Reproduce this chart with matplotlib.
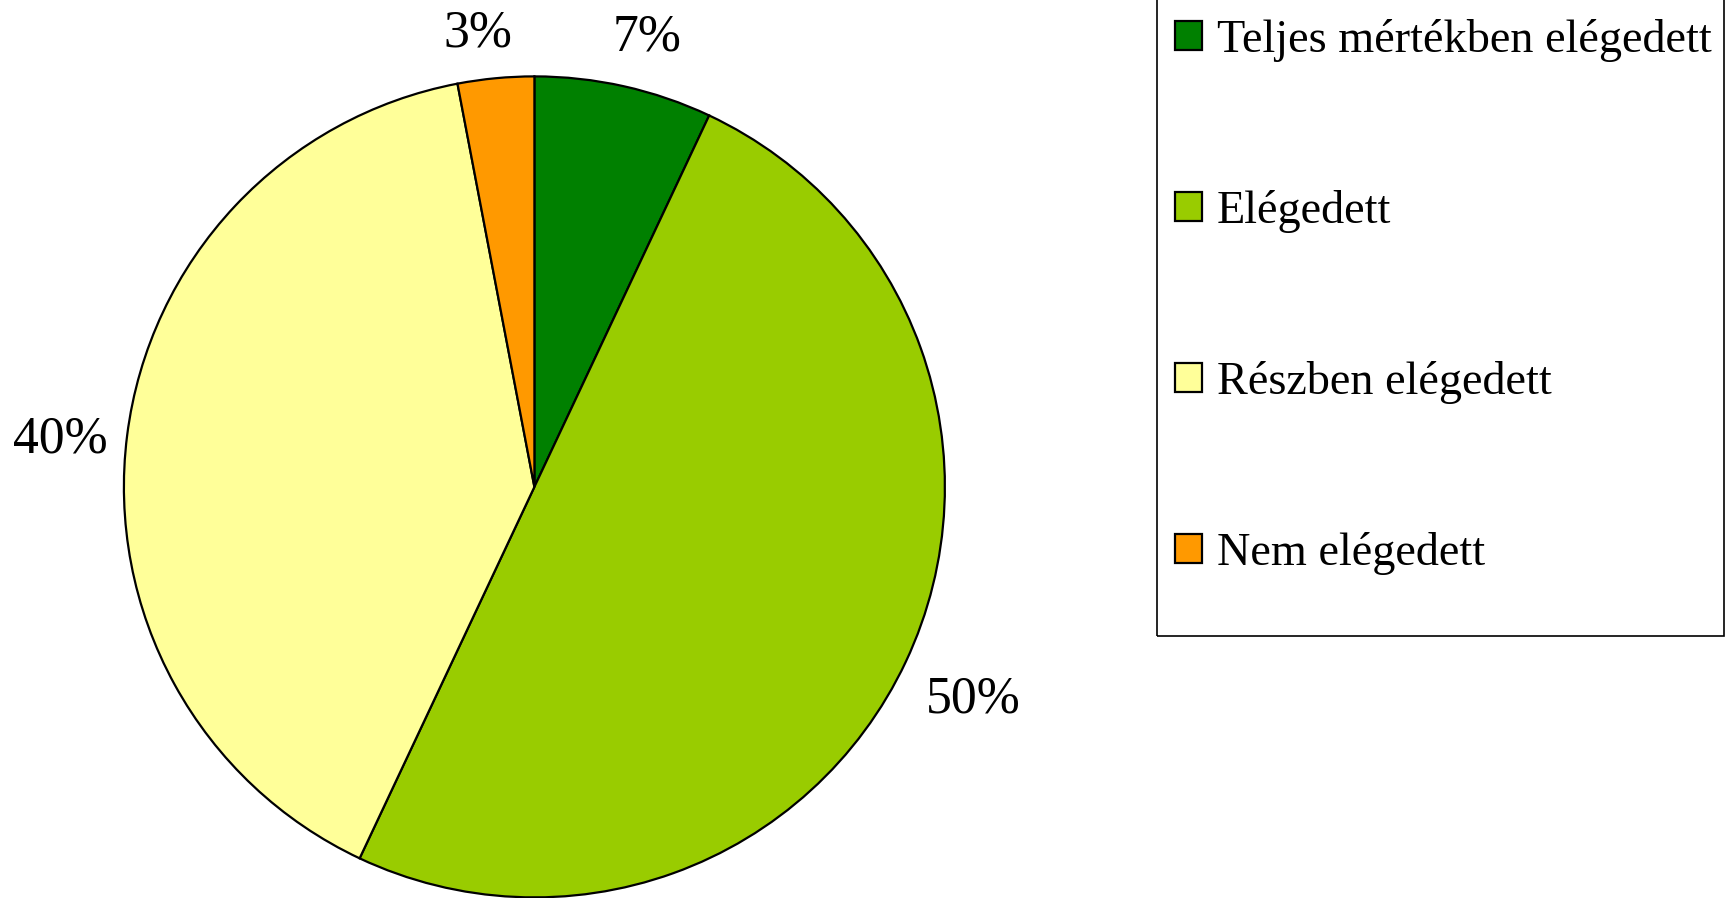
import matplotlib.pyplot as plt
from matplotlib.patches import Rectangle

categories = ["Teljes mértékben elégedett", "Elégedett", "Részben elégedett", "Nem elégedett"]
values = [7, 50, 40, 3]
colors = ["#008000", "#99CC00", "#FFFF99", "#FF9900"]
# label spots (x, y) in pie radius units
label_pos = [(0.275, 1.095), (1.07, -0.518), (-1.154, 0.116), (-0.137, 1.105)]

plt.rcParams['font.family'] = ['Liberation Serif', 'DejaVu Serif']

W, H = 1735, 898
fig = plt.figure(figsize=(W / 100, H / 100), dpi=100)
cx, cy, r = 534.4, 486.9, 410.5
ax = fig.add_axes([(cx - r) / W, (H - cy - r) / H, 2 * r / W, 2 * r / H])

wedges, _ = ax.pie(values, colors=colors, startangle=90, counterclock=False,
                   radius=1, wedgeprops=dict(edgecolor='black', linewidth=1.6))
ax.set_xlim(-1, 1)
ax.set_ylim(-1, 1)
ax.set_aspect('equal')
ax.axis('off')

for v, (x, y) in zip(values, label_pos):
    ax.text(x, y, f"{v}%", fontsize=37.3, ha='center', va='center', clip_on=False)

# legend box (top runs past the figure edge)
fig.patches.append(Rectangle((1157 / W, 1 - 636 / H), (1724 - 1157) / W, 636 / H + 0.1,
                             transform=fig.transFigure, fill=False,
                             edgecolor='black', linewidth=1.2))

fig.legend(wedges, categories, loc='upper left', bbox_to_anchor=(1175 / W, 0.979),
           frameon=False, fontsize=33.3, handlelength=0.58, handleheight=0.58,
           handletextpad=0.32, labelspacing=2.77, borderpad=0, borderaxespad=0)

fig.savefig('out.png', dpi=100)
